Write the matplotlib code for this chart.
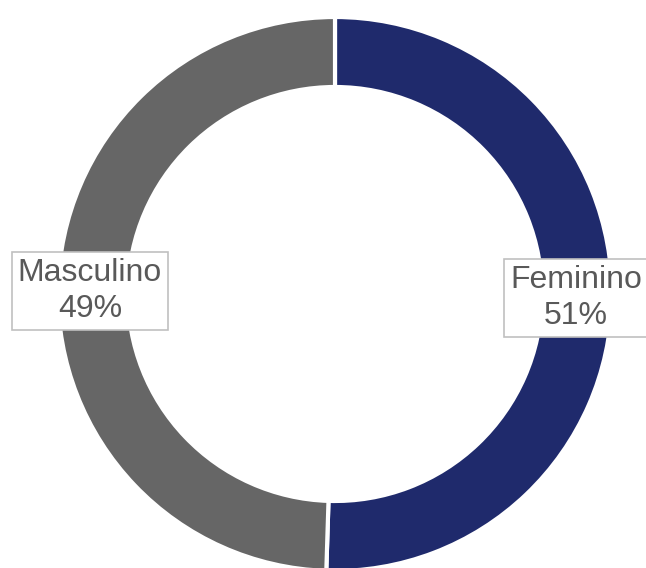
import matplotlib
matplotlib.use("Agg")
import matplotlib.pyplot as plt

categories = ["Feminino", "Masculino"]
values = [50.5, 49.5]
labels = ["Feminino\n51%", "Masculino\n49%"]
colors = ["#1F2A6C", "#666666"]

W, H = 646, 568
fig = plt.figure(figsize=(W / 100, H / 100), dpi=100)
ax = fig.add_axes([0, 0, 1, 1])
ax.set_xlim(0, W)
ax.set_ylim(0, H)
ax.set_aspect("equal")
ax.axis("off")

cx, cy = 335, H - 294
R = 277
ring = 70
wedges, _ = ax.pie(values, colors=colors, startangle=90, counterclock=False,
                   center=(cx, cy), radius=R, frame=True,
                   wedgeprops=dict(width=ring, edgecolor="white", linewidth=3))
ax.set_xlim(0, W)
ax.set_ylim(0, H)
ax.axis("off")

label_pos = [(576, H - 298), (90, H - 291)]
for (x, y), lab in zip(label_pos, labels):
    ax.text(x, y, lab, ha="center", va="center", fontsize=23, color="#595959",
            family=["Liberation Sans", "DejaVu Sans"], linespacing=1.3,
            bbox=dict(boxstyle="square,pad=0.18", facecolor="white",
                      edgecolor="#C0C0C0", linewidth=1.2))

fig.savefig("out.png", dpi=100)
